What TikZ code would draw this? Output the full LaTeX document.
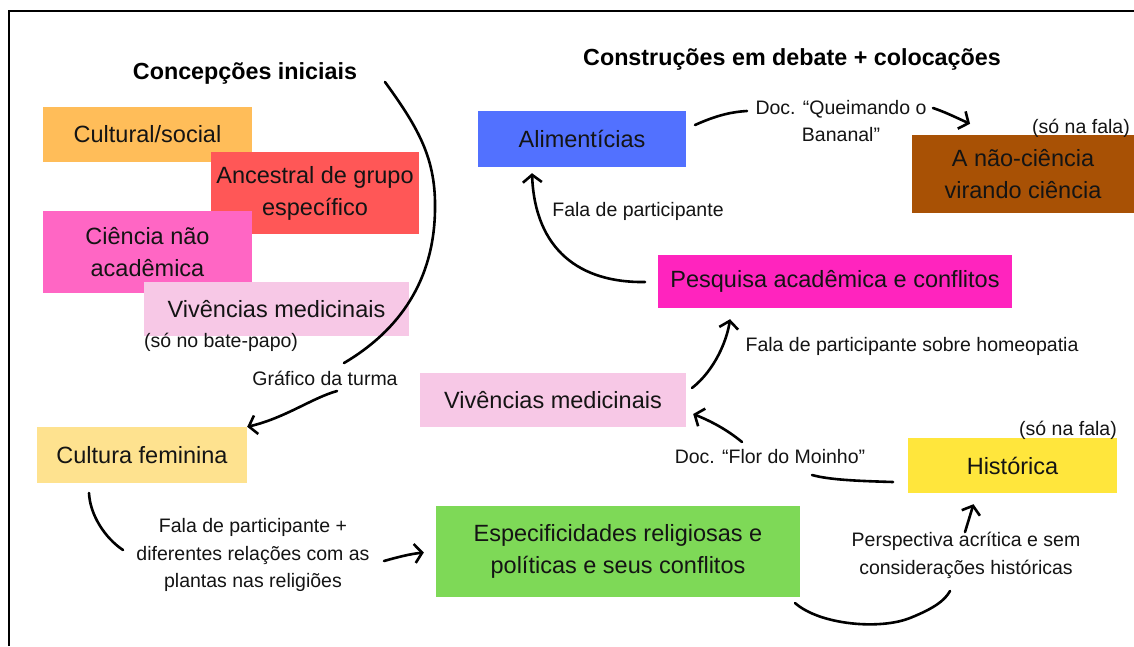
\documentclass[tikz,border=0pt]{standalone}
\usepackage{fontspec}
\setmainfont{Liberation Sans}
\usetikzlibrary{arrows.meta}

\definecolor{cCult}{RGB}{255,189,89}
\definecolor{cAnces}{RGB}{255,87,87}
\definecolor{cCienc}{RGB}{255,102,196}
\definecolor{cViv}{RGB}{247,200,230}
\definecolor{cFemin}{RGB}{254,226,143}
\definecolor{cEspec}{RGB}{126,217,87}
\definecolor{cHist}{RGB}{255,230,60}
\definecolor{cPesq}{RGB}{255,36,190}
\definecolor{cAlim}{RGB}{82,113,255}
\definecolor{cNaoc}{RGB}{168,81,5}

\begin{document}
\begin{tikzpicture}[x=1pt,y=-1pt,
  box/.style={rectangle,inner sep=0pt,align=center,text=black!92,
    font=\fontsize{23.5}{32}\selectfont},
  lbl/.style={inner sep=0pt,align=center,text=black!92,
    font=\fontsize{19.5}{27.5}\selectfont},
  head/.style={inner sep=0pt,font=\bfseries\fontsize{23.3}{28}\selectfont},
  hand/.style={line width=2.6pt,line cap=round,line join=round},
  tip/.style={-{Straight Barb[length=7.5pt,width=19pt]}}]
  \useasboundingbox (0,0) rectangle (1134,646);
  \fill[white] (0,0) rectangle (1134,646);

  % frame (only top and left edges are in view)
  \draw[line width=2.8pt] (9,646) -- (9,11) -- (1134,11);

  % headings
  \node[head] (hconc)  at (245,73) {Concepções iniciais};
  \node[head] (hconst) at (792,59) {Construções em debate + colocações};

  % initial conceptions (stacked, later ones on top)
  \node[box,fill=cCult,minimum width=209pt,minimum height=55pt]
    (cult) at (147.5,134.5) {Cultural/social};
  \node[box,fill=cAnces,minimum width=208pt,minimum height=82pt]
    (ances) at (315,193) {Ancestral de grupo\\específico};
  \node[box,fill=cCienc,minimum width=209pt,minimum height=82pt]
    (cienc) at (147.5,252) {Ciência não\\acadêmica};
  \node[box,fill=cViv,minimum width=265pt,minimum height=54pt]
    (vivL) at (276.5,309) {Vivências medicinais};
  \node[lbl] (lbate) at (221,342) {(só no bate-papo)};

  % constructions in debate
  \node[box,fill=cFemin,minimum width=210pt,minimum height=56pt]
    (femin) at (142,455) {Cultura feminina};
  \node[box,fill=cEspec,minimum width=364pt,minimum height=91pt]
    (espec) at (618,551.5) {Especificidades religiosas e\\políticas e seus conflitos};
  \node[box,fill=cHist,minimum width=209pt,minimum height=55pt]
    (hist) at (1012.5,465.5) {Histórica};
  \node[box,fill=cViv,minimum width=266pt,minimum height=54pt]
    (vivR) at (553,400) {Vivências medicinais};
  \node[box,fill=cPesq,minimum width=354pt,minimum height=53pt]
    (pesq) at (835,281.5) {Pesquisa acadêmica e conflitos};
  \node[box,fill=cAlim,minimum width=208pt,minimum height=56pt]
    (alim) at (582,139) {Alimentícias};
  \node[box,fill=cNaoc,minimum width=222pt,minimum height=78pt]
    (naoc) at (1023,174) {A não-ciência\\virando ciência};

  % connector labels
  \node[lbl] (lgraf)   at (325,378)   {Gráfico da turma};
  \node[lbl] (lfem)    at (253,555)   {Fala de participante +\\diferentes relações com as\\plantas nas religiões};
  \node[lbl] (lpersp)  at (966,555.5) {Perspectiva acrítica e sem\\considerações históricas};
  \node[lbl] (lflor)   at (770,457)   {Doc. “Flor do Moinho”};
  \node[lbl] (lhomeo)  at (912,346)   {Fala de participante sobre homeopatia};
  \node[lbl] (lfala)   at (638,211)   {Fala de participante};
  \node[lbl] (lqueim)  at (841,121)   {Doc. “Queimando o\\Bananal”};
  \node[lbl] (lsofal1) at (1081,128)  {(só na fala)};
  \node[lbl] (lsofal2) at (1068,430)  {(só na fala)};

  % hand-drawn ends
  \coordinate (arcA) at (385,82);
  \coordinate (arcB) at (344,363);
  \coordinate (grafA) at (337,391);
  \coordinate (femA) at (89,493);
  \coordinate (femB) at (123,550);
  \coordinate (espA) at (384,561);
  \coordinate (espB) at (795,603);
  \coordinate (espC) at (950,591);
  \coordinate (persA) at (965,532);
  \coordinate (histA) at (893,482);
  \coordinate (florA) at (812,475);
  \coordinate (florB) at (742,442);
  \coordinate (vivA) at (692,388);
  \coordinate (pesqA) at (645,282);
  \coordinate (alimA) at (695,125);
  \coordinate (queA) at (747,111);
  \coordinate (queB) at (933,108);

  % connectors
  \draw[hand] (arcA) .. controls (420,130) and (436,160) .. (435,210)
    .. controls (434,280) and (400,330) .. (arcB);
  \draw[hand,tip] (grafA) .. controls (312,398) and (285,418) .. (femin.north east);
  \draw[hand] (femA) .. controls (90,515) and (105,538) .. (femB);
  \draw[hand,tip] (espA) .. controls (398,557) and (410,554) .. ([xshift=-12pt,yshift=-1pt]espec.west);
  \draw[hand] (espB) .. controls (820,625) and (880,630) .. (910,618)
    .. controls (935,608) and (945,600) .. (espC);
  \draw[hand,tip] (persA) -- ([xshift=-39pt,yshift=-11pt]hist.south);
  \draw[hand] (histA) .. controls (860,481) and (830,480) .. (florA);
  \draw[hand,tip] (florB) .. controls (725,428) and (708,420) .. ([xshift=7pt,yshift=-14pt]vivR.east);
  \draw[hand,tip] (vivA) .. controls (715,370) and (727,340) .. ([xshift=-105pt,yshift=-11pt]pesq.south);
  \draw[hand,tip] (pesqA) .. controls (580,283) and (535,250) .. ([xshift=-50pt,yshift=-6pt]alim.south);
  \draw[hand] (alimA) .. controls (715,116) and (730,112) .. (queA);
  \draw[hand,tip] (queB) .. controls (945,112) and (955,117) .. ([xshift=-53pt,yshift=11pt]naoc.north);
\end{tikzpicture}
\end{document}
